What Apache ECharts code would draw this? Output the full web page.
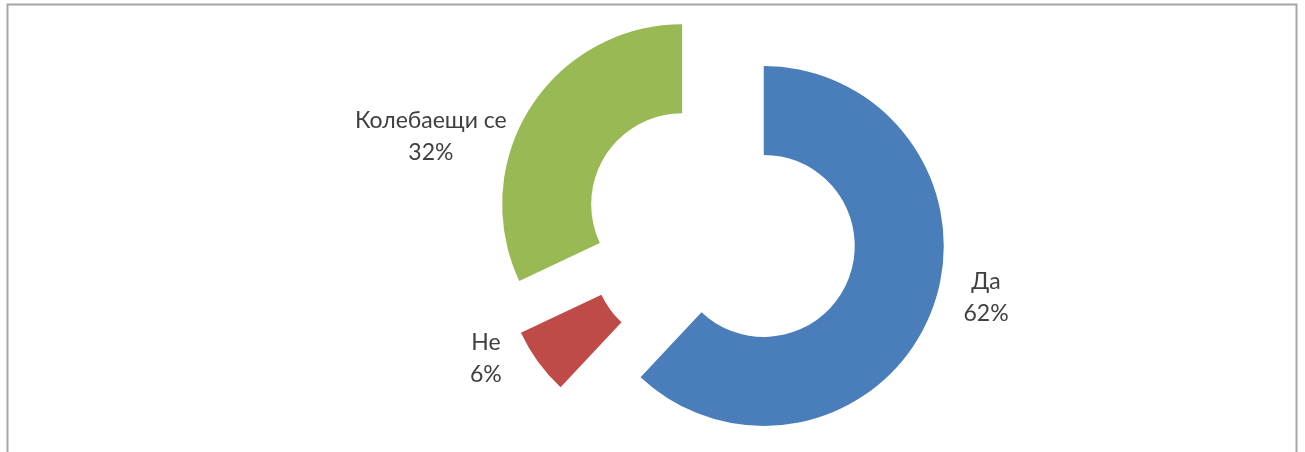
<!DOCTYPE html>
<html>
<head>
<meta charset="utf-8">
<script src="https://cdn.jsdelivr.net/npm/echarts@6/dist/echarts.min.js"></script>
<style>
html,body{margin:0;padding:0;background:#fff;}
#c{width:1305px;height:452px;}
</style>
</head>
<body>
<div id="c"></div>
<script>
const categories = ['Да', 'Не', 'Колебаещи се'];
const values = [62, 6, 32];
const colors = ['#4A7EBB', '#BE4B48', '#98B954'];
const labelShifts = [[22, -26], [-23, -21], [-69, 45]];

const chart = echarts.init(document.getElementById('c'));
chart.setOption({
  animation: false,
  graphic: [{
    type: 'rect',
    shape: { x: 7.5, y: 4.5, width: 1289, height: 470 },
    style: { fill: 'none', stroke: '#a6a6a6', lineWidth: 2 },
    silent: true
  }],
  series: [{
    type: 'pie',
    center: [721, 229],
    radius: [91, 180],
    startAngle: 90,
    clockwise: true,
    selectedMode: 'multiple',
    selectedOffset: 46,
    avoidLabelOverlap: false,
    select: { itemStyle: {} },
    emphasis: { disabled: true },
    label: {
      show: true,
      position: 'outside',
      formatter: '{b}\n{c}%',
      fontFamily: 'Lato',
      fontSize: 23,
      lineHeight: 32,
      color: '#404040'
    },
    labelLine: { show: false, length: 30, length2: 0 },
    labelLayout: function (p) {
      const s = labelShifts[p.dataIndex];
      return { align: 'center', dx: s[0], dy: s[1] };
    },
    data: categories.map((n, i) => ({
      name: n,
      value: values[i],
      selected: true,
      itemStyle: { color: colors[i] }
    }))
  }]
});
</script>
</body>
</html>
